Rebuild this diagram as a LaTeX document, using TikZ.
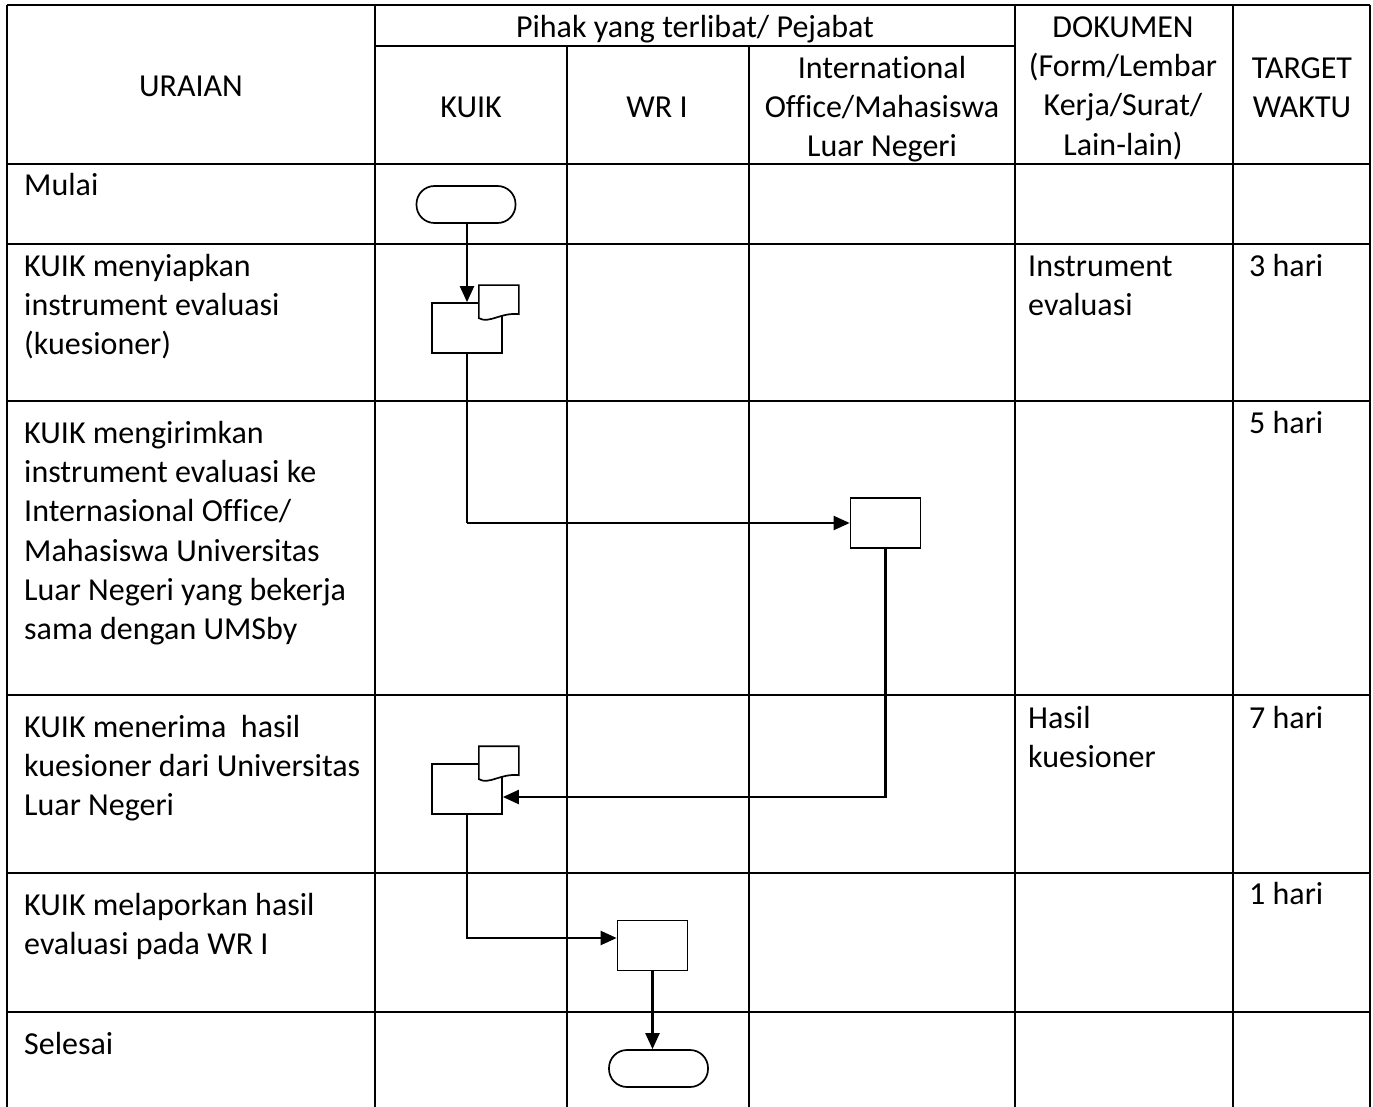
\documentclass[tikz,border=0pt]{standalone}
\usepackage{fontspec}
\setmainfont[Ligatures=NoCommon]{Carlito}
\usetikzlibrary{arrows.meta,calc}

\newcommand\cellfont{\fontsize{32}{39.3}\selectfont}
% paper sheet drawn over the upper right corner of a process box
\newcommand\docsheet[1]{%
  \draw[boxline,fill=white]
    ($(#1.north east)+(-24,-17)$) -- ($(#1.north east)+(16,-17)$)
    -- ($(#1.north east)+(16,12)$)
    .. controls ($(#1.north east)+(-2,10)$) and ($(#1.north east)+(-14,22)$)
    .. ($(#1.north east)+(-24,16)$) -- cycle;}

\begin{document}
\begin{tikzpicture}[x=1pt,y=-1pt,
  grid/.style={line width=2.2pt},
  boxline/.style={line width=1.7pt},
  flowline/.style={line width=2.1pt},
  arr/.style={flowline,-{Triangle[length=16pt,width=14pt]}},
  txt/.style={inner sep=0pt,font=\cellfont,align=left,anchor=north west},
  ctxt/.style={inner sep=0pt,font=\cellfont,align=center,anchor=north},
  proc/.style={boxline,draw,fill=white,rectangle,inner sep=0pt,
    minimum width=70pt,minimum height=50pt},
  term/.style={boxline,draw,fill=white,rectangle,rounded corners=18pt,
    inner sep=0pt,minimum width=99pt,minimum height=37pt}]

\useasboundingbox (0,0) rectangle (1373,1107);
\fill[white] (0,0) rectangle (1373,1107);

% table grid (open at the bottom)
\draw[grid] (7,5) -- (1370,5);
\foreach \x in {7,375,1015,1233,1370} \draw[grid] (\x,5) -- (\x,1107);
\foreach \x in {567,749} \draw[grid] (\x,46) -- (\x,1107);
\draw[grid] (375,46) -- (1015,46);
\foreach \y in {164,244,401,695,873,1012} \draw[grid] (7,\y) -- (1370,\y);

% header
\node[ctxt] (hpihak) at (695,9.5) {\strut Pihak yang terlibat/ Pejabat};
\node[ctxt] (huraian) at (191,68.5) {\strut URAIAN};
\node[ctxt] (hkuik) at (471,89.5) {\strut KUIK};
\node[ctxt] (hwr) at (657,89.5) {\strut WR I};
\node[ctxt] (hio) at (882,50.5) {\strut International\\Office/Mahasiswa\\Luar Negeri};
\node[ctxt] (hdok) at (1123,9.5) {\strut DOKUMEN\\(Form/Lembar\\Kerja/Surat/\\Lain-lain)};
\node[ctxt] (htarget) at (1302,50.5) {\strut TARGET\\WAKTU};

% activity descriptions
\node[txt] (u1) at (24,168) {\strut Mulai};
\node[txt] (u2) at (24,248.5) {\strut KUIK menyiapkan\\instrument evaluasi\\(kuesioner)};
\node[txt] (u3) at (24,415.5) {\strut KUIK mengirimkan\\instrument evaluasi ke\\Internasional Office/\\Mahasiswa Universitas\\Luar Negeri yang bekerja\\sama dengan UMSby};
\node[txt] (u4) at (24,709.5) {\strut KUIK menerima\ \ hasil\\kuesioner dari Universitas\\Luar Negeri};
\node[txt] (u5) at (24,887.5) {\strut KUIK melaporkan hasil\\evaluasi pada WR I};
\node[txt] (u6) at (24,1026.5) {\strut Selesai};

% documents
\node[txt] (d1) at (1028,248.5) {\strut Instrument\\evaluasi};
\node[txt] (d2) at (1028,700.5) {\strut Hasil\\kuesioner};

% target times
\node[txt] (t1) at (1249,248.5) {\strut 3 hari};
\node[txt] (t2) at (1249,405.5) {\strut 5 hari};
\node[txt] (t3) at (1249,700.5) {\strut 7 hari};
\node[txt] (t4) at (1249,876.5) {\strut 1 hari};

% flowchart symbols
\node[term] (start) at (466,204.5) {};
\node[proc] (p1) at (467,328) {};
\node[proc] (p2) at (885.5,523) {};
\node[proc] (p3) at (467,789) {};
\node[proc] (p4) at (652.5,945.5) {};
\node[term] (finish) at (658.5,1068.5) {};

% connectors
\draw[arr] (p1.north |- start.south) -- (p1.north);
\draw[flowline] (p1.south) -- (p1.south |- p2.west);
\draw[arr] (p1.south |- p2.west) -- (p2.west);
\draw[arr] (p2.south) |- ([yshift=-8pt]p3.east);
\draw[arr] (p3.south) |- ([yshift=7.5pt]p4.west);
\draw[arr] (p4.south) -- (p4.south |- finish.north);

% document sheets
\docsheet{p1}
\docsheet{p3}
\end{tikzpicture}
\end{document}
